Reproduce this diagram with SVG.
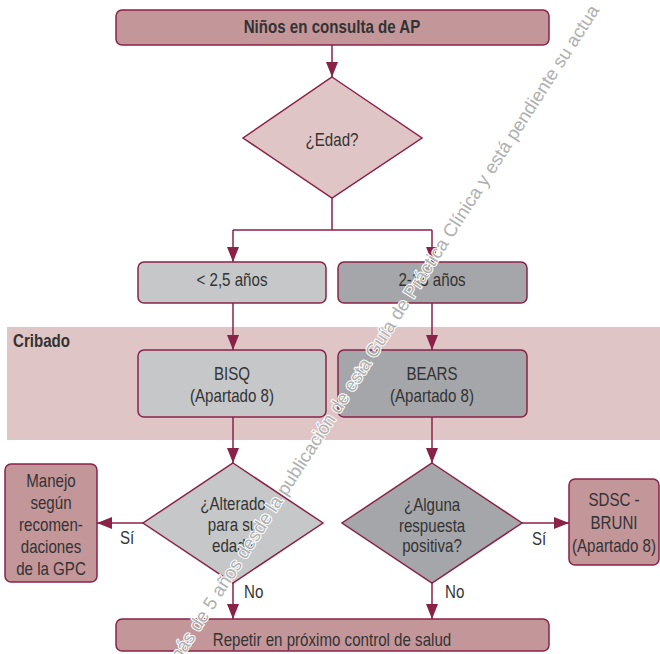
<svg xmlns="http://www.w3.org/2000/svg" width="660" height="654" viewBox="0 0 660 654">
<defs>
<marker id="ah" markerUnits="userSpaceOnUse" markerWidth="15" markerHeight="12" refX="15" refY="6" orient="auto">
<path d="M0,0 L15,6 L0,12 z" fill="#8a2247"/>
</marker>
<style>
.rose{fill:#c3969a;stroke:#8a2247;stroke-width:1.5}
.pink{fill:#dfc5c6;stroke:#8a2247;stroke-width:1.5}
.g1{fill:#c6c7c9;stroke:#8a2247;stroke-width:1.5}
.g2{fill:#a5a6a9;stroke:#8a2247;stroke-width:1.5}
.t{font-family:"Liberation Sans",Arial,sans-serif;font-size:18px;fill:#333;text-anchor:middle;transform-box:fill-box;transform-origin:center;transform:scaleX(0.84)}
.lbl{font-family:"Liberation Sans",Arial,sans-serif;font-size:18px;fill:#333;transform-box:fill-box;transform-origin:left;transform:scaleX(0.84)}
.b{font-weight:bold}
.c{fill:none;stroke:#8a2247;stroke-width:1.5}
.wm{font-family:"Liberation Sans",Arial,sans-serif;font-size:18.5px;fill:#b0b0b0;stroke:#fff;stroke-width:2;paint-order:stroke}
</style>
</defs>
<rect id="band" x="7" y="327" width="653" height="113" fill="#dfc5c6"/>
<text class="lbl b" x="13" y="347" font-size="17">Cribado</text>
<g id="connectors">
<path class="c" d="M332,45 V77" marker-end="url(#ah)"/>
<path class="c" d="M332,198 V230 M233,230 H432"/>
<path class="c" d="M233,230 V262" marker-end="url(#ah)"/>
<path class="c" d="M432,230 V262" marker-end="url(#ah)"/>
<path class="c" d="M233,303 V350" marker-end="url(#ah)"/>
<path class="c" d="M432,303 V350" marker-end="url(#ah)"/>
<path class="c" d="M233,417 V463" marker-end="url(#ah)"/>
<path class="c" d="M432,417 V463" marker-end="url(#ah)"/>
<path class="c" d="M143,523 H97" marker-end="url(#ah)"/>
<path class="c" d="M522,523 H569" marker-end="url(#ah)"/>
<path class="c" d="M233,583 V619" marker-end="url(#ah)"/>
<path class="c" d="M432,583 V619" marker-end="url(#ah)"/>
<text class="t" x="127" y="544">Sí</text>
<text class="t" x="539" y="545">Sí</text>
<text class="lbl" x="244" y="598">No</text>
<text class="lbl" x="445" y="598">No</text>
</g>
<g id="n_start">
<rect class="rose" x="116" y="10" width="433" height="35" rx="6"/>
<text class="t b" x="332" y="33.5" font-size="17">Niños en consulta de AP</text>
</g>
<g id="n_edad">
<polygon class="pink" points="332,77 422,138 332,198 243,138"/>
<text class="t" x="332" y="146">¿Edad?</text>
</g>
<g id="n_menor">
<rect class="g1" x="138" y="262" width="188" height="41" rx="6"/>
<text class="t" x="232" y="286">&lt; 2,5 años</text>
</g>
<g id="n_mayor">
<rect class="g2" x="338" y="262" width="189" height="41" rx="6"/>
<text class="t" x="432" y="286">2-18 años</text>
</g>
<g id="n_bisq">
<rect class="g1" x="138" y="350" width="188" height="67" rx="6"/>
<text class="t" x="232" y="380">BISQ</text>
<text class="t" x="232" y="402">(Apartado 8)</text>
</g>
<g id="n_bears">
<rect class="g2" x="338" y="350" width="189" height="67" rx="6"/>
<text class="t" x="432" y="380">BEARS</text>
<text class="t" x="432" y="402">(Apartado 8)</text>
</g>
<g id="n_alterado">
<polygon class="g1" points="233,463 323,523 233,583 143,523"/>
<text class="t" x="233" y="510">¿Alterado</text>
<text class="t" x="233" y="531">para su</text>
<text class="t" x="233" y="552">edad?</text>
</g>
<g id="n_alguna">
<polygon class="g2" points="432,463 522,523 432,583 342,523"/>
<text class="t" x="432" y="511">¿Alguna</text>
<text class="t" x="432" y="532">respuesta</text>
<text class="t" x="432" y="552">positiva?</text>
</g>
<g id="n_manejo">
<rect class="rose" x="5" y="464" width="92" height="118" rx="6"/>
<text class="t" x="51" y="487.5">Manejo</text>
<text class="t" x="51" y="509.3">según</text>
<text class="t" x="51" y="531">recomen-</text>
<text class="t" x="51" y="552.8">daciones</text>
<text class="t" x="51" y="574.6">de la GPC</text>
</g>
<g id="n_sdsc">
<rect class="rose" x="569" y="479" width="90" height="86" rx="6"/>
<text class="t" x="614" y="506">SDSC -</text>
<text class="t" x="614" y="529">BRUNI</text>
<text class="t" x="614" y="551.7">(Apartado 8)</text>
</g>
<g id="n_repetir">
<rect class="rose" x="116" y="619" width="433" height="32" rx="6"/>
<text class="t" x="332" y="646.5">Repetir en próximo control de salud</text>
</g>
<text class="wm" transform="translate(177,666.3) rotate(-57.2)">más de 5 años desde la publicación de esta Guía de Práctica Clínica y está pendiente su actua</text>
</svg>
